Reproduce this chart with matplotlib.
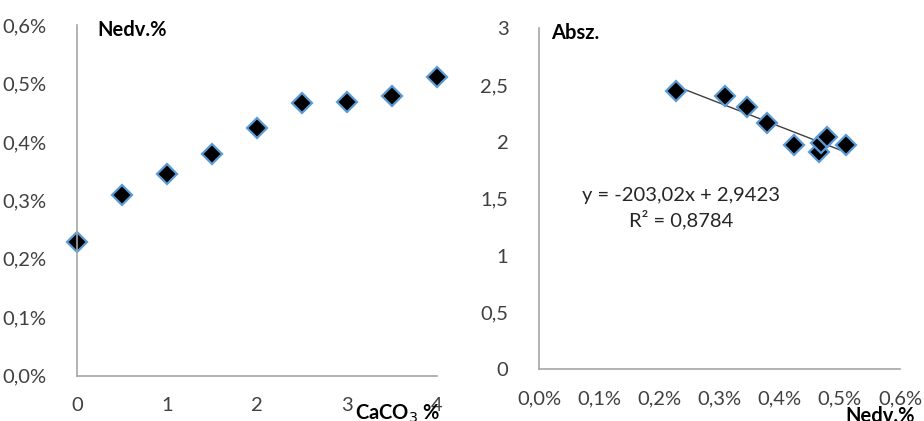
#!/usr/bin/env python3
""" CaCO3 vs Nedv.% and Absz. vs Nedv.% scatter charts """
import numpy as np
import matplotlib
matplotlib.use('Agg')
import matplotlib.pyplot as plt
from matplotlib.ticker import FuncFormatter

caco3 = [0, 0.5, 1, 1.5, 2, 2.5, 3, 3.5, 4]
nedv = [0.00228, 0.00309, 0.00345, 0.00379, 0.00424,
        0.00466, 0.00468, 0.00479, 0.00511]
absz = [2.45, 2.40, 2.31, 2.17, 1.97, 1.91, 1.99, 2.04, 1.97]

eq_text = 'y = -203,02x + 2,9423'
r2_text = 'R² = 0,8784'

plt.rcParams['font.family'] = ['Lato', 'DejaVu Sans']

TICK_COLOR = '#404040'
SPINE_COLOR = '#a6a6a6'
FS = 14.5


def pct(v, pos):
    return f'{v * 100:.1f}%'.replace('.', ',')


def num(v, pos):
    return f'{v:g}'.replace('.', ',')


def style(ax):
    for s in ['top', 'right']:
        ax.spines[s].set_visible(False)
    for s in ['left', 'bottom']:
        ax.spines[s].set_color(SPINE_COLOR)
        ax.spines[s].set_linewidth(1.2)
    ax.tick_params(length=0, labelsize=FS, labelcolor=TICK_COLOR)
    ax.tick_params(axis='y', pad=22)
    ax.tick_params(axis='x', pad=15)


fig = plt.figure(figsize=(9.24, 4.21), dpi=100)

ax1 = fig.add_axes([0.0833, 0.1076, 0.3896, 0.833])
style(ax1)
ax1.plot(caco3, nedv, linestyle='none', marker='D', markersize=10,
         markerfacecolor='black', markeredgecolor='#5b9bd5',
         markeredgewidth=1.6, clip_on=False)
ax1.set_xlim(0, 4)
ax1.set_ylim(0, 0.006)
ax1.set_xticks(np.arange(0, 5, 1))
ax1.set_yticks(np.arange(0, 0.0061, 0.001))
ax1.yaxis.set_major_formatter(FuncFormatter(pct))
ax1.text(97, 421 - 30, 'Nedv.%', transform=None, fontsize=FS,
         fontweight='bold', va='center', ha='left')
ax1.text(355, 421 - 414, 'CaCO$_3$ %', transform=None, fontsize=FS,
         fontweight='bold', va='center', ha='left')

ax2 = fig.add_axes([0.5833, 0.1228, 0.3907, 0.81])
style(ax2)
ax2.plot(nedv, absz, linestyle='none', marker='D', markersize=10,
         markerfacecolor='black', markeredgecolor='#5b9bd5',
         markeredgewidth=1.6, zorder=3)
k, b = np.polyfit(nedv, absz, 1)
xs = np.array([min(nedv), max(nedv)])
ax2.plot(xs, k * xs + b, color='#404040', linewidth=1, zorder=2)
ax2.set_xlim(0, 0.006)
ax2.set_ylim(0, 3)
ax2.set_xticks(np.arange(0, 0.0061, 0.001))
ax2.set_yticks(np.arange(0, 3.01, 0.5))
ax2.xaxis.set_major_formatter(FuncFormatter(pct))
ax2.yaxis.set_major_formatter(FuncFormatter(num))
ax2.text(551, 421 - 33, 'Absz.', transform=None, fontsize=FS,
         fontweight='bold', va='center', ha='left')
ax2.text(845, 421 - 416, 'Nedv.%', transform=None, fontsize=FS,
         fontweight='bold', va='center', ha='left')
ax2.text(681, 421 - 195, eq_text, transform=None, fontsize=FS,
         color='#262626', va='center', ha='center')
ax2.text(681, 421 - 220, r2_text, transform=None, fontsize=FS,
         color='#262626', va='center', ha='center')

fig.savefig('out.png', dpi=100)
